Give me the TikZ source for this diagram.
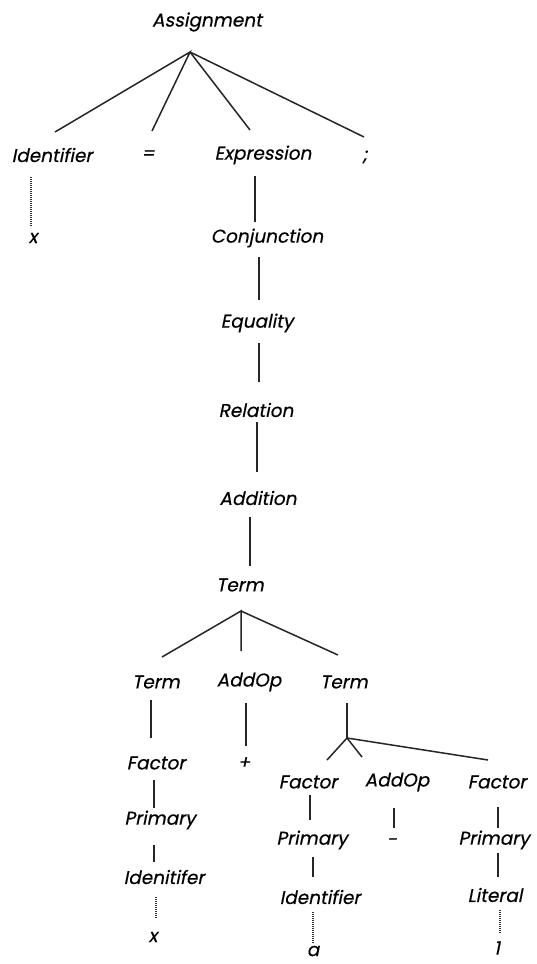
\documentclass[tikz,border=0pt]{standalone}
\usepackage{fontspec}
\newfontfamily\treefont{Poppins}[FakeSlant=0.2,FakeBold=0.4]
\begin{document}
\begin{tikzpicture}[x=1pt,y=-1pt,
  lbl/.style={inner sep=0pt,font=\treefont\fontsize{18.5}{22}\selectfont},
  edge/.style={line width=1.5pt,black!85},
  dots/.style={line width=1.3pt,dash pattern=on 0.6pt off 1.4pt,black!80}]
\useasboundingbox[fill=white] (0,0) rectangle (537,964);
% nodes
\node[lbl] (A) at (207,22) {Assignment};
\node[lbl] (Id) at (52,155) {Identifier};
\node[lbl] (Eq) at (148,155) {=};
\node[lbl] (Ex) at (263,155) {Expression};
\node[lbl] (Sc) at (365,157) {;};
\node[lbl] (xa) at (33,238) {x};
\node[lbl] (Cj) at (267,238) {Conjunction};
\node[lbl] (Ql) at (257,323) {Equality};
\node[lbl] (Rl) at (256,410) {Relation};
\node[lbl] (Ad) at (258,498) {Addition};
\node[lbl] (T) at (240,585) {Term};
\node[lbl] (TL) at (156,682) {Term};
\node[lbl] (AO) at (249,682) {AddOp};
\node[lbl] (TR) at (344,682) {Term};
\node[lbl] (FL) at (156,763) {Factor};
\node[lbl] (pl) at (244,763) {+};
\node[lbl] (FM) at (308,782) {Factor};
\node[lbl] (AO2) at (397,782) {AddOp};
\node[lbl] (FR) at (497,782) {Factor};
\node[lbl] (PL) at (160,820) {Primary};
\node[lbl] (PM) at (312,840) {Primary};
\node[lbl] (mi) at (392,842) {-};
\node[lbl] (PR) at (494,840) {Primary};
\node[lbl] (IL) at (164,877) {Idenitifer};
\node[lbl] (IM) at (320,897) {Identifier};
\node[lbl] (Lt) at (495,895) {Literal};
\node[lbl] (xb) at (153,937) {x};
\node[lbl] (aa) at (313,951) {a};
\node[lbl] (one) at (497,948) {1};
% junctions
\coordinate (J1) at ([shift={(-17,30)}]A.center);
\coordinate (J2) at ([shift={(1,26)}]T.center);
\coordinate (J3) at ([shift={(3,56)}]TR.center);
% connectors
\draw[edge] ([shift={(3,-23)}]Id.center) -- (J1) -- ([shift={(4,-24)}]Eq.center);
\draw[edge] (J1) -- ([shift={(-13,-25)}]Ex.center);
\draw[edge] (J1) -- ([shift={(-1,-20)}]Sc.center);
\draw[dots] ([shift={(-21,22)}]Id.center) -- ([shift={(-2,-11)}]xa.center);
\draw[edge] ([shift={(-8,21)}]Ex.center) -- ([shift={(-12,-16)}]Cj.center);
\draw[edge] ([shift={(-8,19)}]Cj.center) -- ([shift={(2,-23)}]Ql.center);
\draw[edge] ([shift={(2,20)}]Ql.center) -- ([shift={(3,-28)}]Rl.center);
\draw[edge] ([shift={(1,12)}]Rl.center) -- ([shift={(-1,-26)}]Ad.center);
\draw[edge] ([shift={(-8,19)}]Ad.center) -- ([shift={(10,-19)}]T.center);
\draw[edge] ([shift={(6,-25)}]TL.center) -- (J2) -- ([shift={(-8,-31)}]AO.center);
\draw[edge] (J2) -- ([shift={(-6,-27)}]TR.center);
\draw[edge] ([shift={(-5,18)}]TL.center) -- ([shift={(-5,-25)}]FL.center);
\draw[edge] ([shift={(-3,21)}]AO.center) -- ([shift={(2,-17)}]pl.center);
\draw[edge] ([shift={(3,21)}]TR.center) -- (J3);
\draw[edge] (J3) -- ([shift={(19,-22)}]FM.center);
\draw[edge] (J3) -- ([shift={(-35,-25)}]AO2.center);
\draw[edge] (J3) -- ([shift={(-9,-22)}]FR.center);
\draw[edge] ([shift={(-2,17)}]FL.center) -- ([shift={(-6,-12)}]PL.center);
\draw[edge] ([shift={(-6,25)}]PL.center) -- ([shift={(-10,-15)}]IL.center);
\draw[dots] ([shift={(-8,20)}]IL.center) -- ([shift={(3,-19)}]xb.center);
\draw[edge] ([shift={(2,13)}]FM.center) -- ([shift={(-2,-20)}]PM.center);
\draw[edge] ([shift={(1,17)}]PM.center) -- ([shift={(-7,-20)}]IM.center);
\draw[dots] ([shift={(-7,15)}]IM.center) -- ([shift={(0,-8)}]aa.center);
\draw[edge] ([shift={(-3,26)}]AO2.center) -- ([shift={(2,-14)}]mi.center);
\draw[edge] ([shift={(1,25)}]FR.center) -- ([shift={(4,-12)}]PR.center);
\draw[edge] ([shift={(4,13)}]PR.center) -- ([shift={(3,-18)}]Lt.center);
\draw[dots] ([shift={(5,15)}]Lt.center) -- ([shift={(3,-15)}]one.center);
\end{tikzpicture}
\end{document}
